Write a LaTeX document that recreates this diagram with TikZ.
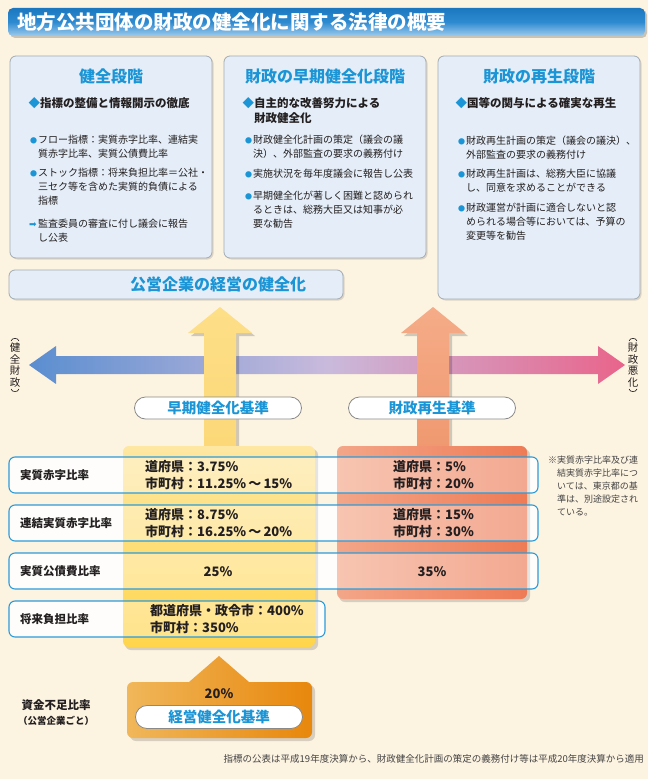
\documentclass[tikz,border=0pt]{standalone}
\usepackage{fontspec}
\usepackage{graphicx}
\setmainfont{Noto Sans CJK JP}
\newfontfamily\dejavu{DejaVu Sans}
\usetikzlibrary{shapes.misc}
\definecolor{cream}{HTML}{FDF3E1}
\definecolor{boxfill}{HTML}{E5EEF8}
\definecolor{boxdraw}{HTML}{A3ABB3}
\definecolor{titleblue}{HTML}{1B95D5}
\definecolor{rowblue}{HTML}{2C9BD9}
\definecolor{textdark}{HTML}{231F20}
\definecolor{pillgray}{HTML}{8A8A8A}
\definecolor{hL}{HTML}{5A8ED0}
\definecolor{hM}{HTML}{C9BADC}
\definecolor{hR}{HTML}{E9648B}
\definecolor{yelA}{HTML}{FDDF88}
\definecolor{yelB}{HTML}{FCD878}
\definecolor{orgA}{HTML}{F5AC88}
\definecolor{orgB}{HTML}{F09970}
\definecolor{colYt}{HTML}{FEE7A2}
\definecolor{colYb}{HTML}{FFD54C}
\definecolor{colOl}{HTML}{F3A688}
\definecolor{colOr}{HTML}{EE7B56}
\definecolor{botL}{HTML}{F0B75A}
\definecolor{botR}{HTML}{E8870C}
\definecolor{titTop}{HTML}{1B77BF}
\definecolor{titMid}{HTML}{2E8AD0}
\definecolor{titBot}{HTML}{9DCBEE}
\definecolor{notegray}{HTML}{444444}
\newcommand\mydia{\llap{\textcolor{titleblue}{◆}}}
\newcommand\mybul{\llap{\textcolor{titleblue}{\fontsize{7}{7}\selectfont ●}\hspace{1pt}}}
\newcommand\myarr{\llap{\textcolor{titleblue}{\dejavu\fontsize{9}{9}\selectfont ➡}\hspace{1.5pt}}}
\begin{document}
\begin{tikzpicture}[x=1pt,y=-1pt,
  infobox/.style={draw=boxdraw, line width=0.8pt, fill=boxfill, rounded corners=6pt},
  shadowbox/.style={fill=black, opacity=0.12, rounded corners=6pt},
  boxtitle/.style={inner sep=0pt, font=\fontsize{16}{18}\selectfont\bfseries, text=titleblue},
  head/.style={anchor=north west, inner sep=0pt, align=left, font=\fontsize{11.5}{15}\selectfont\bfseries, text=textdark},
  item/.style={anchor=north west, inner sep=0pt, align=left, font=\fontsize{10}{14}\selectfont, text=textdark},
  pill/.style={rounded rectangle, draw=pillgray, line width=0.8pt, fill=white, minimum width=167pt, minimum height=22pt, inner sep=0pt, font=\fontsize{14.5}{16}\selectfont\bfseries, text=titleblue},
  rowbox/.style={draw=rowblue, line width=1.1pt, rounded corners=6pt},
  rowlabel/.style={anchor=west, inner sep=0pt, font=\fontsize{11.5}{14}\selectfont\bfseries, text=textdark},
  val/.style={anchor=north west, inner sep=0pt, align=left, font=\fontsize{13}{17}\selectfont\bfseries, text=textdark},
  valc/.style={inner sep=0pt, font=\fontsize{13}{17}\selectfont\bfseries, text=textdark},
  side/.style={inner sep=0pt, align=center, font=\fontsize{10.5}{11.5}\selectfont, text=textdark},
  paren/.style={draw=textdark, line width=0.6pt}
]
\useasboundingbox (0,0) rectangle (650,781);
\fill[cream] (0,0) rectangle (648,779);

% title bar
\fill[black, opacity=0.2, rounded corners=5pt] (10,10) rectangle (647,38);
\shade[top color=titTop, bottom color=titBot, middle color=titMid, rounded corners=5pt] (8,8) rectangle (645,36);
\node[anchor=west, inner sep=0pt, text=white, font=\fontsize{19.5}{20}\selectfont\bfseries] (title) at (17,22) {地方公共団体の財政の健全化に関する法律の概要};

% info boxes
\fill[shadowbox] (11.5,57.5) rectangle (213.5,259.5);
\fill[shadowbox] (225.5,57.5) rectangle (427.5,259.5);
\fill[shadowbox] (439.5,57.5) rectangle (641.5,300.5);
\fill[shadowbox] (10.5,271.5) rectangle (344.5,300.5);
\draw[infobox] (10,56) rectangle (212,258);
\draw[infobox] (224,56) rectangle (426,258);
\draw[infobox] (438,56) rectangle (640,299);
\draw[infobox] (9,270) rectangle (343,299);

\node[boxtitle] (t1) at (111,76) {健全段階};
\node[boxtitle] (t2) at (325,76) {財政の早期健全化段階};
\node[boxtitle] (t3) at (539,76) {財政の再生段階};

\node[head] (h1) at (40,97) {\mydia 指標の整備と情報開示の徹底};
\node[item] (i1a) at (38,135) {\mybul フロー指標：実質赤字比率、連結実\\質赤字比率、実質公債費比率};
\node[item] (i1b) at (38,168) {\mybul ストック指標：将来負担比率＝公社・\\三セク等を含めた実質的負債による\\指標};
\node[item] (i1c) at (38,219) {\myarr 監査委員の審査に付し議会に報告\\し公表};

\node[head] (h2) at (254,97) {\mydia 自主的な改善努力による\\財政健全化};
\node[item] (i2a) at (253,135) {\mybul 財政健全化計画の策定（議会の議\\決）、外部監査の要求の義務付け};
\node[item] (i2b) at (253,169) {\mybul 実施状況を毎年度議会に報告し公表};
\node[item] (i2c) at (253,191) {\mybul 早期健全化が著しく困難と認められ\\るときは、総務大臣又は知事が必\\要な勧告};

\node[head] (h3) at (467,97) {\mydia 国等の関与による確実な再生};
\node[item] (i3a) at (466,136) {\mybul 財政再生計画の策定（議会の議決）、\\外部監査の要求の義務付け};
\node[item] (i3b) at (466,169) {\mybul 財政再生計画は、総務大臣に協議\\し、同意を求めることができる};
\node[item] (i3c) at (466,203) {\mybul 財政運営が計画に適合しないと認\\められる場合等においては、予算の\\変更等を勧告};

\node[boxtitle] (t4) at (218,284) {公営企業の経営の健全化};

% horizontal double arrow
\shade[left color=hL, right color=hR, middle color=hM]
  (29,365) -- (56,346) -- (56,356) -- (598,356) -- (598,346) -- (625,365)
  -- (598,384) -- (598,374) -- (56,374) -- (56,384) -- cycle;
\node[side] (sl) at (15,365) {健\\全\\財\\政};
\node[side] (sr) at (633,365) {財\\政\\悪\\化};
\draw[paren] (11,341) .. controls (12,337.5) and (18,337.5) .. (19,341);
\draw[paren] (11,389) .. controls (12,392.5) and (18,392.5) .. (19,389);
\draw[paren] (629,341) .. controls (630,337.5) and (636,337.5) .. (637,341);
\draw[paren] (629,389) .. controls (630,392.5) and (636,392.5) .. (637,389);

% vertical arrows
\fill[black, opacity=0.18] (223,310) -- (255,336) -- (239,336) -- (239,450) -- (207,450) -- (207,336) -- (191,336) -- cycle;
\shade[top color=yelA, bottom color=yelB] (220,307) -- (252,333) -- (236,333) -- (236,447) -- (204,447) -- (204,333) -- (188,333) -- cycle;
\fill[black, opacity=0.18] (436,310) -- (468,336) -- (452,336) -- (452,450) -- (420,450) -- (420,336) -- (404,336) -- cycle;
\shade[top color=orgA, bottom color=orgB] (433,307) -- (465,333) -- (449,333) -- (449,447) -- (417,447) -- (417,333) -- (401,333) -- cycle;

\node[pill] (p1) at (218,408) {早期健全化基準};
\node[pill] (p2) at (432,408) {財政再生基準};

% rows (fill under columns)
\fill[white, opacity=0.85, rounded corners=6pt] (9,457) rectangle (538,493);
\fill[white, opacity=0.85, rounded corners=6pt] (9,505) rectangle (538,541);
\fill[white, opacity=0.85, rounded corners=6pt] (9,553) rectangle (538,589);
\fill[white, opacity=0.85, rounded corners=6pt] (9,601) rectangle (325,637);

% columns
\fill[black, opacity=0.15, rounded corners=6pt] (125,449) rectangle (318,650);
\shade[top color=colYt, bottom color=colYb, rounded corners=6pt] (123,446) rectangle (315,647);
\fill[black, opacity=0.15, rounded corners=6pt] (339,449) rectangle (530,602);
\shade[left color=colOl, right color=colOr, rounded corners=6pt] (337,446) rectangle (527,599);

% rows overlay + outline
\fill[white, opacity=0.35, rounded corners=6pt] (9,457) rectangle (538,493);
\fill[white, opacity=0.35, rounded corners=6pt] (9,505) rectangle (538,541);
\fill[white, opacity=0.35, rounded corners=6pt] (9,553) rectangle (538,589);
\fill[white, opacity=0.35, rounded corners=6pt] (9,601) rectangle (325,637);
\draw[rowbox] (9,457) rectangle (538,493);
\draw[rowbox] (9,505) rectangle (538,541);
\draw[rowbox] (9,553) rectangle (538,589);
\draw[rowbox] (9,601) rectangle (325,637);

\node[rowlabel] (r1) at (20,475) {実質赤字比率};
\node[rowlabel] (r2) at (20,523) {連結実質赤字比率};
\node[rowlabel] (r3) at (20,571) {実質公債費比率};
\node[rowlabel] (r4) at (20,619) {将来負担比率};

\node[val] (y1) at (145,460) {道府県：3.75\%\\市町村：11.25\%\,～\,15\%};
\node[val] (y2) at (145,508) {道府県：8.75\%\\市町村：16.25\%\,～\,20\%};
\node[valc] (y3) at (218,572) {25\%};
\node[val] (y4) at (150,604) {都道府県・政令市：400\%\\市町村：350\%};
\node[val] (o1) at (393,460) {道府県：5\%\\市町村：20\%};
\node[val] (o2) at (393,508) {道府県：15\%\\市町村：30\%};
\node[valc] (o3) at (432,572) {35\%};

\node[anchor=north west, inner sep=0pt, align=left, font=\fontsize{9}{13}\selectfont, text=notegray] (note) at (557,456)
  {\llap{※}実質赤字比率及び連\\結実質赤字比率につ\\いては、東京都の基\\準は、別途設定され\\ている。};

% bottom box
\fill[black, opacity=0.15] (130,685) [sharp corners] -- (191,685) -- (221,659) -- (251,685) [rounded corners=6pt] -- (315,685) -- (315,741) -- (130,741) -- cycle;
\shade[left color=botL, right color=botR] (127,682) [sharp corners] -- (189,682) -- (219,656) -- (249,682) [rounded corners=6pt] -- (312,682) -- (312,738) -- (127,738) -- cycle;
\node[valc] (b20) at (219,694) {20\%};
\node[pill, minimum height=23pt] (p3) at (219,717) {経営健全化基準};
\node[inner sep=0pt, font=\fontsize{11.5}{14}\selectfont\bfseries, text=textdark] (sf1) at (56,705) {資金不足比率};
\node[inner sep=0pt, font=\fontsize{9.5}{12}\selectfont\bfseries, text=textdark] (sf2) at (56,721) {（公営企業ごと）};

\node[anchor=east, inner sep=0pt, font=\fontsize{9.5}{12}\selectfont, text=notegray] (foot) at (644,759) {指標の公表は平成19年度決算から、財政健全化計画の策定の義務付け等は平成20年度決算から適用};
\end{tikzpicture}
\end{document}
